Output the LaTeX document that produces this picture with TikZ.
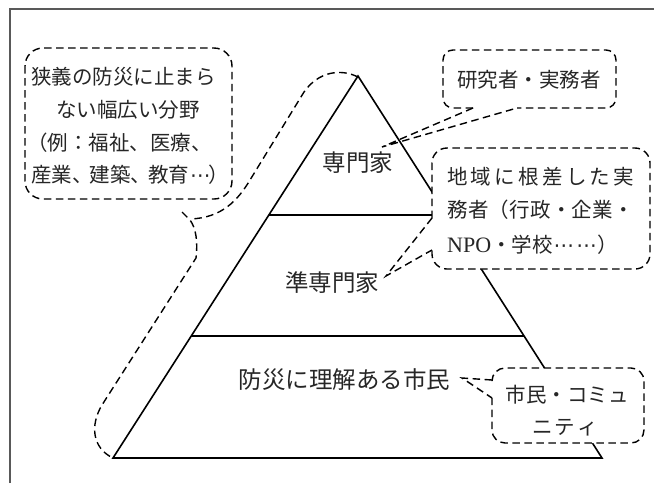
\documentclass[tikz,border=0pt]{standalone}
\usepackage{fontspec}
\newfontfamily\cjk{Noto Sans CJK JP}
\newfontfamily\djv{DejaVu Sans}
\newfontfamily\latser{Liberation Serif}
\newcommand{\midell}{{\djv\kern0.05em⋯\kern0.05em}}
\begin{document}
\begin{tikzpicture}[x=1pt,y=-1pt,
  dsh/.style={dash pattern=on 7.5pt off 4.5pt, line width=1.4pt, line cap=butt},
  solidline/.style={line width=1.6pt},
  big/.style={font=\cjk\fontsize{23.5}{28}\selectfont, text=black!85, inner sep=0pt},
  sml/.style={font=\cjk\fontsize{20.5}{24}\selectfont, text=black!85, inner sep=0pt}]
\useasboundingbox (0,0) rectangle (654,483);
% frame
\draw[line width=1.5pt, black!65] (10,483) -- (10,9) -- (654,9);
% pyramid
\draw[solidline, line join=miter] (358,76) -- (113,458) -- (602,458) -- cycle;
\draw[solidline] (268.8,215) -- (446.8,215);
\draw[solidline] (191.2,336) -- (524.1,336);
% enclosure around left side
\draw[dsh] (358,77) .. controls (340,68) and (318,72) .. (304,92) -- (250,180) .. controls (238,200) and (222,218) .. (190,219);
\draw[dsh] (182,212) -- (190,220) .. controls (196,228) and (198,242) .. (196,258) -- (102,405) .. controls (90,425) and (92,448) .. (113,458);
% left box
\draw[dsh, rounded corners=18pt] (25,48) rectangle (232,199);
% box 2
\draw[dsh, rounded corners=10pt] (473,108) -- (443,108) -- (443,50) -- (616,50) -- (616,108) -- (517,108);
\draw[dsh] (473,108) -- (382,147) -- (517,108);
% box 3
\fill[white, rounded corners=15pt] (432,148) rectangle (650,269);
\fill[white] (386,276) -- (432,218) -- (432,250) -- cycle;
\draw[dsh, rounded corners=15pt] (432,218) -- (432,148) -- (650,148) -- (650,269) -- (432,269) -- (432,250);
\draw[dsh] (432,218) -- (386,276) -- (432,250);
% box 4
\fill[white, rounded corners=13pt] (492,368) rectangle (644,443);
\draw[dsh, rounded corners=13pt] (492,380) -- (492,368) -- (644,368) -- (644,443) -- (492,443) -- (492,398);
\draw[dsh] (492,380) -- (462,378) -- (492,398);
% pyramid labels
\node[big] (senmonka) at (358,163) {専門家};
\node[big] (junsenmonka) at (332,283) {準専門家};
\node[big] (shimin) at (344.5,380) {防災に理解ある市民};
% left box text
\node[sml, anchor=west] (l1) at (31,77) {狭義の防災に止まら};
\node[sml] (l2) at (128,110) {ない幅広い分野};
\node[sml, anchor=west] (l3) at (31,143) {\kern-0.2em（例：福祉、医療、};
\node[sml, anchor=west] (l4) at (31,175) {産業、\kern-0.15em建築、\kern-0.15em教育\midell\kern-0.15em）};
% box 2 text
\node[sml] (b2) at (529,80) {研究者・実務者};
% box 3 text
\node[sml, anchor=west] (b3a) at (447,177) {\makebox[187pt][s]{地\hfill 域\hfill に\hfill 根\hfill 差\hfill し\hfill た\hfill 実}};
\node[sml, anchor=west] (b3b) at (447,210) {\makebox[187pt][s]{務\hfill 者\hfill （行\hfill 政\hfill ・\hfill 企\hfill 業\hfill ・}};
\node[sml, anchor=west] (b3c) at (447,245) {{\latser\fontsize{22}{24}\selectfont NPO}・学校\midell\midell）};
% box 4 text
\node[sml] (b4a) at (567,395) {市民・コミュ};
\node[sml] (b4b) at (565,428) {\makebox[66pt][s]{ニ\hfill テ\hfill ィ}};
\end{tikzpicture}
\end{document}
